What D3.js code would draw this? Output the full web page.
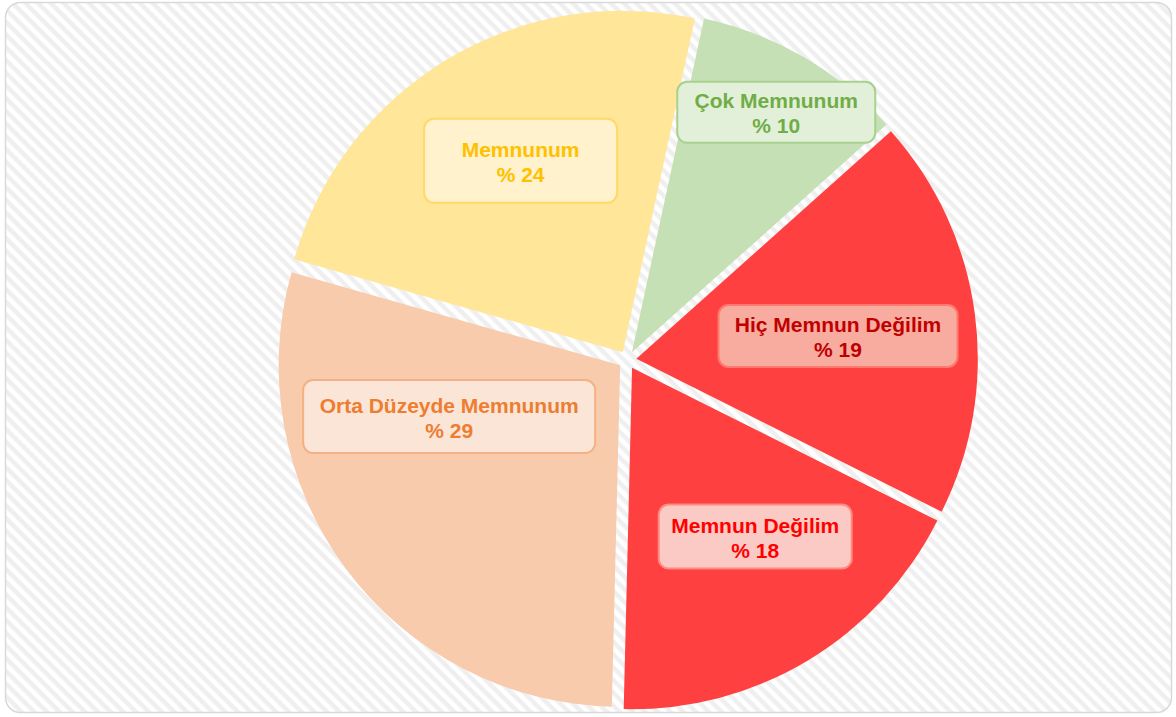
<!DOCTYPE html>
<html>
<head>
<meta charset="utf-8">
<script src="https://cdn.jsdelivr.net/npm/d3@7"></script>
<style>
html,body{margin:0;padding:0;background:#fff;}
svg{display:block;}
</style>
</head>
<body>
<svg id="chart" width="1176" height="717"></svg>
<script>
// ---- data ----
const categories = ["Çok Memnunum", "Hiç Memnun Değilim", "Memnun Değilim", "Orta Düzeyde Memnunum", "Memnunum"];
const values = [10, 19, 18, 29, 24];
const valueLabels = ["% 10", "% 19", "% 18", "% 29", "% 24"];

// ---- styles ----
const sliceColors = ["#C5E0B4", "#FF4040", "#FF4040", "#F8CBAD", "#FFE699"];
const labelText = ["#70AD47", "#C00000", "#FF0000", "#ED7D31", "#FFC000"];
const labelFill = ["#E2F0D9", "#F8ACA0", "#FBCAC4", "#FBE5D6", "#FFF2CC"];
const labelStroke = ["#A9D18E", "#FF7A6E", "#FF8A80", "#F4B183", "#FFD966"];
// label layout: polar anchor [angle deg, radius px] and box size [w, h]
const labelAnchor = [[31.0, 289], [83.5, 212], [144.1, 218], [252.4, 187], [-28.2, 226]];
const labelBox = [[198, 61], [239, 62], [193, 64], [292, 73], [193, 84]];

const W = 1176, H = 717;
const cx = 627.4, cy = 360, R = 341.5, explode = 9;
const startDeg = 12.2;

const svg = d3.select("#chart");
const defs = svg.append("defs");
const pat = defs.append("pattern")
  .attr("id", "stripes")
  .attr("patternUnits", "userSpaceOnUse")
  .attr("width", 9).attr("height", 9)
  .attr("patternTransform", "rotate(45)");
pat.append("rect").attr("width", 9).attr("height", 9).attr("fill", "#ffffff");
pat.append("rect").attr("x", 0).attr("y", 0).attr("width", 9).attr("height", 4.5).attr("fill", "#efefef");

svg.append("rect")
  .attr("x", 5.5).attr("y", 2.5).attr("width", 1166).attr("height", 710)
  .attr("rx", 15).attr("ry", 15)
  .attr("fill", "url(#stripes)")
  .attr("stroke", "#d9d9d9").attr("stroke-width", 1.5);

const rad = d => d * Math.PI / 180;
const pie = d3.pie().sort(null).value(d => d)
  .startAngle(rad(startDeg)).endAngle(rad(startDeg) + 2 * Math.PI);
const arcs = pie(values);
const arcGen = d3.arc().innerRadius(0).outerRadius(R);

const g = svg.append("g").attr("transform", `translate(${cx},${cy})`);

g.selectAll("path.slice").data(arcs).join("path")
  .attr("class", "slice")
  .attr("d", arcGen)
  .attr("fill", (d, i) => sliceColors[i])
  .attr("transform", d => {
    const a = (d.startAngle + d.endAngle) / 2;
    return `translate(${explode * Math.sin(a)},${-explode * Math.cos(a)})`;
  });

const lab = g.selectAll("g.lab").data(arcs).join("g")
  .attr("class", "lab")
  .attr("transform", (d, i) => {
    const a = rad(labelAnchor[i][0]), r = labelAnchor[i][1];
    return `translate(${r * Math.sin(a)},${-r * Math.cos(a)})`;
  });

lab.append("rect")
  .attr("x", (d, i) => -labelBox[i][0] / 2)
  .attr("y", (d, i) => -labelBox[i][1] / 2)
  .attr("width", (d, i) => labelBox[i][0])
  .attr("height", (d, i) => labelBox[i][1])
  .attr("rx", 10).attr("ry", 10)
  .attr("fill", (d, i) => labelFill[i])
  .attr("stroke", (d, i) => labelStroke[i])
  .attr("stroke-width", 2);

const txt = lab.append("text")
  .attr("text-anchor", "middle")
  .attr("font-family", "Liberation Sans, Arial, sans-serif")
  .attr("font-weight", "bold")
  .attr("font-size", 21)
  .attr("fill", (d, i) => labelText[i]);
txt.append("tspan").attr("x", 0).attr("y", -4).text((d, i) => categories[i]);
txt.append("tspan").attr("x", 0).attr("y", 21).text((d, i) => valueLabels[i]);
</script>
</body>
</html>
